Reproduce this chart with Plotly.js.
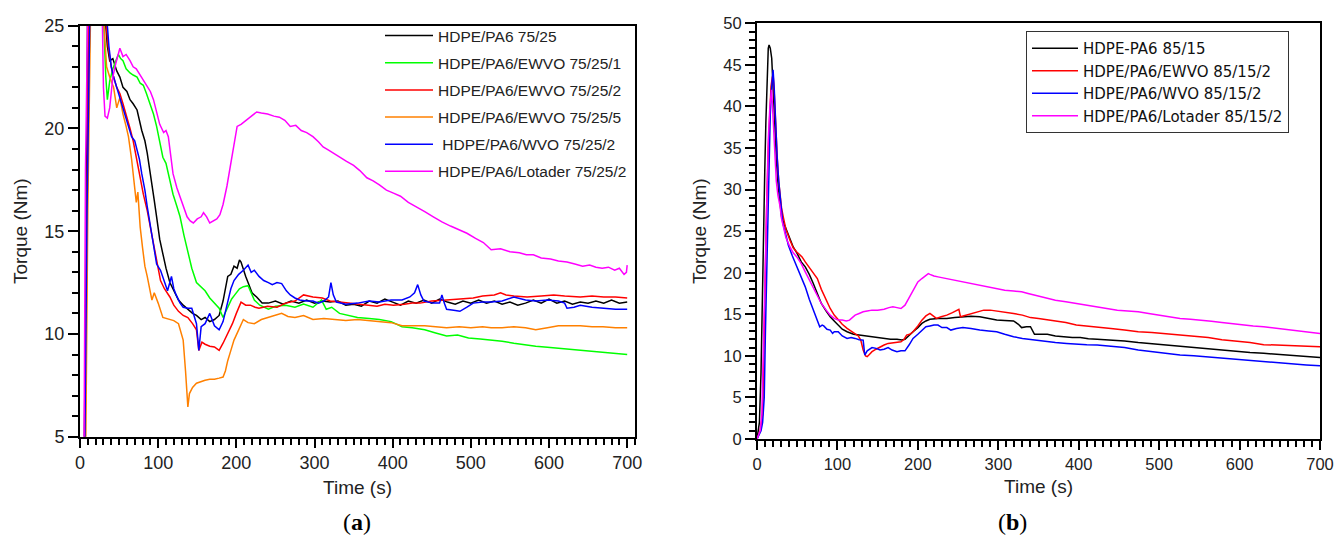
<!DOCTYPE html>
<html>
<head>
<meta charset="utf-8">
<script src="https://cdn.plot.ly/plotly-3.0.1.min.js"></script>
<style>html,body{margin:0;padding:0;background:#fff;}#chart{width:1334px;height:541px;}</style>
</head>
<body>
<div id="chart"></div>
<script>
// ---------- Panel (a): HDPE/PA6 75/25 blends, [time s, torque Nm] ----------
const namesA = ["HDPE/PA6 75/25", "HDPE/PA6/EWVO 75/25/1", "HDPE/PA6/EWVO 75/25/2",
                "HDPE/PA6/EWVO 75/25/5", " HDPE/PA6/WVO 75/25/2", "HDPE/PA6/Lotader 75/25/2"];

const a_blend = [[0,2],[5,3],[8,14],[10,28],[14,40],[20,42],[26,34],[32,25.5],[35,24.0],[38,23.3],[42,23.4],[47,22.8],[51,22.5],[55,22.0],[60,21.8],[64,21.4],[68,21.2],[73,20.9],[79,19.9],[83,19.4],[86,18.8],[89,18.1],[92,17.3],[95,16.5],[98,15.7],[102,14.6],[106,13.9],[110,13.2],[115,12.5],[120,12.1],[126,11.65],[132,11.4],[138,11.2],[144,11.0],[149,10.9],[155,10.7],[160,10.8],[166,10.6],[172,10.7],[178,10.9],[183,11.6],[186,12.2],[189,12.8],[193,12.9],[197,13.3],[201,13.2],[204,13.6],[206,13.5],[209,13.1],[212,12.8],[215,12.5],[220,12.0],[226,11.8],[233,11.5],[241,11.5],[250,11.6],[260,11.45],[270,11.6],[280,11.5],[290,11.65],[300,11.5],[310,11.6],[320,11.55],[330,11.6],[340,11.4],[350,11.45],[360,11.35],[370,11.6],[380,11.5],[390,11.7],[400,11.55],[410,11.4],[420,11.6],[430,11.5],[440,11.65],[450,11.5],[460,11.7],[470,11.55],[480,11.45],[490,11.6],[500,11.5],[510,11.65],[520,11.5],[530,11.6],[540,11.45],[550,11.55],[560,11.4],[570,11.5],[580,11.65],[590,11.5],[600,11.7],[610,11.5],[620,11.6],[630,11.45],[640,11.55],[650,11.5],[660,11.6],[670,11.5],[680,11.65],[690,11.5],[700,11.55]];

const a_ewvo1 = [[0,1],[6,3],[9,16],[12,30],[18,40],[25,33],[30,25.5],[33,22.5],[35,21.4],[38,22.3],[42,22.9],[46,23.3],[49,23.6],[52,23.4],[55,23.3],[59,22.9],[64,22.7],[68,22.6],[73,22.5],[77,22.2],[81,22.1],[85,21.7],[90,21.2],[94,20.7],[98,20.1],[102,19.3],[106,18.6],[110,18.3],[113,17.8],[119,16.8],[124,16.2],[128,15.7],[133,14.8],[137,14.2],[143,13.2],[149,12.5],[155,12.3],[160,12.1],[166,11.75],[172,11.5],[178,11.25],[183,10.8],[189,11.3],[194,11.7],[198,11.9],[204,12.2],[209,12.3],[215,12.35],[219,12.0],[223,11.65],[230,11.4],[241,11.2],[250,11.35],[263,11.4],[275,11.3],[286,11.45],[298,11.3],[309,11.65],[315,11.2],[322,11.3],[332,11.0],[345,10.9],[355,10.8],[370,10.75],[383,10.7],[398,10.6],[412,10.35],[425,10.3],[441,10.2],[455,10.05],[469,9.9],[483,9.95],[497,9.8],[512,9.75],[526,9.7],[540,9.65],[555,9.55],[570,9.45],[583,9.4],[598,9.35],[612,9.3],[626,9.25],[640,9.2],[655,9.15],[669,9.1],[685,9.05],[700,9.0]];

const a_ewvo2 = [[0,1],[6,3],[9,15],[12,30],[18,40],[26,33],[33,25.3],[36,24.0],[40,23.0],[43,22.5],[47,22.0],[51,21.7],[55,21.2],[60,20.6],[64,20.0],[68,19.4],[71,18.8],[74,18.3],[78,17.5],[81,16.8],[86,16.0],[90,15.2],[94,14.4],[98,13.6],[103,12.6],[108,12.2],[115,11.8],[120,11.4],[126,11.1],[132,10.9],[138,10.8],[144,10.5],[149,10.2],[152,9.2],[156,9.6],[160,9.5],[166,9.4],[172,9.37],[178,9.2],[183,9.55],[189,10.0],[195,10.5],[200,11.0],[206,11.55],[212,11.4],[218,11.4],[224,11.3],[229,11.25],[240,11.35],[252,11.3],[263,11.5],[275,11.6],[286,11.9],[298,11.8],[310,11.75],[320,11.6],[332,11.55],[345,11.5],[355,11.45],[366,11.4],[380,11.35],[390,11.45],[401,11.4],[415,11.45],[425,11.5],[435,11.5],[450,11.6],[469,11.65],[485,11.7],[503,11.75],[515,11.85],[530,11.9],[538,12.0],[545,11.9],[555,11.85],[572,11.8],[590,11.85],[606,11.9],[620,11.85],[640,11.8],[655,11.85],[670,11.8],[685,11.8],[700,11.75]];

const a_ewvo5 = [[0,1],[7,3],[10,16],[13,30],[18,38],[25,32],[30,25.5],[34,23.0],[38,22.5],[43,22.0],[47,21.0],[51,21.5],[55,20.7],[59,20.1],[62,19.6],[66,18.5],[70,17.0],[72,16.4],[74,16.9],[77,15.2],[80,14.2],[83,13.3],[86,12.8],[90,12.0],[92,11.65],[95,12.0],[98,11.7],[100,11.5],[106,10.8],[110,10.75],[115,10.7],[120,10.65],[126,10.5],[132,9.7],[135,8.2],[138,6.45],[140,7.1],[144,7.4],[149,7.6],[155,7.7],[160,7.75],[166,7.8],[172,7.8],[178,7.85],[183,7.9],[186,8.2],[189,8.7],[193,9.2],[197,9.7],[203,10.2],[209,10.7],[215,10.55],[223,10.5],[232,10.7],[241,10.8],[250,10.9],[258,11.0],[266,10.85],[275,10.8],[286,10.9],[298,10.7],[312,10.75],[326,10.7],[340,10.65],[355,10.7],[370,10.65],[383,10.6],[398,10.55],[412,10.4],[426,10.4],[441,10.4],[455,10.35],[469,10.3],[485,10.35],[500,10.3],[515,10.35],[526,10.3],[540,10.3],[555,10.35],[570,10.3],[583,10.2],[598,10.3],[612,10.4],[626,10.4],[640,10.4],[655,10.35],[669,10.35],[685,10.3],[700,10.3]];

const a_wvo2 = [[0,1],[6,4],[9,16],[12,30],[18,40],[26,33],[34,25.5],[37,24.0],[40,23.0],[43,22.5],[47,22.0],[51,21.5],[55,21.0],[60,20.3],[66,19.6],[70,19.4],[73,19.0],[76,18.5],[79,17.8],[83,17.0],[86,16.2],[90,15.2],[94,14.2],[98,13.4],[103,13.1],[108,12.5],[112,12.1],[117,12.8],[120,12.2],[123,11.9],[128,11.5],[132,11.3],[138,11.25],[143,11.25],[147,10.8],[149,10.5],[152,9.2],[155,10.35],[160,10.5],[166,11.0],[172,10.4],[178,10.2],[183,10.6],[189,11.65],[193,12.2],[197,12.6],[203,12.9],[209,13.1],[215,13.35],[219,13.0],[223,13.1],[229,12.8],[235,12.6],[241,12.5],[246,12.4],[252,12.5],[258,12.45],[264,12.1],[269,11.9],[275,11.75],[281,11.65],[290,11.6],[298,11.6],[305,11.5],[312,11.6],[318,11.8],[321,12.5],[324,11.9],[328,11.55],[340,11.45],[355,11.5],[370,11.6],[383,11.55],[398,11.65],[412,11.65],[422,11.8],[428,12.0],[432,12.4],[436,11.9],[440,11.6],[452,11.5],[460,11.5],[463,11.9],[466,11.5],[469,11.2],[478,11.15],[486,11.1],[495,11.3],[503,11.5],[515,11.55],[526,11.55],[540,11.6],[555,11.8],[570,11.65],[583,11.6],[598,11.65],[612,11.6],[620,11.5],[623,11.25],[632,11.3],[640,11.4],[655,11.3],[669,11.25],[685,11.2],[700,11.2]];

const a_lotader = [[0,1],[5,3],[7,18],[10,32],[16,42],[24,36],[28,25.5],[30,22.0],[32,20.6],[35,20.5],[38,21.0],[42,22.5],[46,23.2],[51,23.9],[55,23.5],[59,23.6],[64,23.3],[68,23.0],[72,22.9],[77,22.6],[81,22.3],[86,22.0],[90,21.8],[94,21.4],[98,20.8],[102,20.2],[107,19.8],[110,19.9],[113,19.6],[116,18.6],[119,17.8],[124,17.1],[128,16.7],[133,16.2],[137,15.7],[141,15.5],[145,15.4],[150,15.6],[155,15.7],[158,15.9],[162,15.7],[166,15.4],[170,15.5],[175,15.6],[179,15.8],[183,16.3],[188,17.2],[192,18.1],[196,19.0],[201,20.1],[206,20.2],[213,20.4],[220,20.6],[226,20.8],[232,20.75],[240,20.7],[248,20.6],[255,20.55],[262,20.4],[269,20.1],[276,20.15],[283,19.9],[290,19.8],[298,19.6],[305,19.35],[311,19.1],[318,18.95],[324,18.8],[332,18.6],[341,18.4],[350,18.2],[358,17.95],[367,17.6],[375,17.45],[383,17.25],[392,17.0],[401,16.85],[410,16.7],[420,16.4],[430,16.2],[441,15.95],[452,15.7],[463,15.45],[474,15.25],[485,15.05],[495,14.9],[506,14.65],[516,14.45],[526,14.1],[538,14.15],[550,14.0],[562,13.95],[571,13.85],[580,13.85],[590,13.7],[602,13.65],[612,13.55],[623,13.5],[633,13.4],[643,13.3],[652,13.35],[660,13.25],[668,13.2],[676,13.25],[684,13.1],[690,13.2],[696,12.9],[699,13.0],[700,13.35]];

// ---------- Panel (b): HDPE/PA6 85/15 blends ----------
const namesB = ["HDPE-PA6 85/15", "HDPE/PA6/EWVO 85/15/2", "HDPE/PA6/WVO 85/15/2", "HDPE/PA6/Lotader 85/15/2"];

const b_blend = [[0,0],[3,2],[5,8],[7.5,24],[9.6,32],[11,38],[12.6,44.8],[14,47],[15,47.4],[16.5,47.0],[18.3,45.8],[20,42],[22.4,36.8],[24.5,33],[26.5,30.3],[28.5,28.2],[30.6,26.7],[34,25.8],[37,25.1],[41,24.2],[45,23.1],[50,22.3],[55,21.3],[60,20.7],[65,19.8],[70,18.7],[75,17.4],[80,16.3],[86,15.4],[91,14.7],[96,14.2],[101,13.7],[106,13.2],[112,12.9],[120,12.6],[127,12.5],[135,12.4],[143,12.3],[150,12.2],[158,12.1],[166,12.0],[174,12.0],[180,11.9],[184,12.0],[189,12.4],[194,12.9],[200,13.4],[205,13.9],[210,14.2],[215,14.4],[225,14.5],[236,14.5],[246,14.6],[256,14.7],[266,14.75],[277,14.7],[288,14.5],[298,14.3],[308,14.25],[319,14.2],[325,13.8],[329,13.4],[335,13.5],[340,13.5],[345,12.6],[352,12.6],[361,12.6],[371,12.4],[381,12.3],[392,12.2],[402,12.2],[412,12.05],[423,12.0],[440,11.9],[457,11.8],[474,11.6],[491,11.45],[509,11.3],[526,11.1],[543,10.95],[561,10.8],[578,10.7],[595,10.55],[613,10.4],[630,10.3],[648,10.15],[665,10.0],[683,9.9],[700,9.8]];

const b_ewvo2 = [[0,0],[4,1],[7,3],[9.6,18],[12,28],[14,34.8],[16,39.5],[17.4,42.4],[19,43.5],[20,43.8],[21,42.5],[22.4,39.2],[24,35.5],[25.3,33.6],[27,31],[28.6,29.6],[30.5,27.8],[32.7,26.7],[36,25.2],[41,23.9],[45,23.0],[49.5,22.5],[53,22.2],[56,21.9],[60,21.3],[65,20.6],[70,20.0],[75,19.3],[80,18.0],[86,16.7],[91,15.7],[96,14.9],[101,14.3],[106,13.8],[112,13.3],[117,13.0],[122,12.7],[126,12.4],[129,11.9],[132,10.7],[135,10.0],[137,9.9],[140,10.2],[143,10.5],[148,10.8],[153,11.1],[158,11.3],[163,11.5],[170,11.6],[179,11.7],[183,12.0],[186,12.5],[190,12.6],[194,12.9],[200,13.6],[205,14.3],[210,14.8],[215,15.1],[219,14.8],[223,14.5],[229,14.7],[236,14.9],[243,15.2],[249,15.5],[251,15.6],[253,14.7],[260,14.9],[267,15.1],[274,15.3],[282,15.5],[290,15.5],[298,15.4],[308,15.3],[319,15.1],[330,14.9],[340,14.6],[350,14.5],[360,14.35],[371,14.2],[384,14.0],[397,13.7],[410,13.6],[423,13.5],[440,13.3],[457,13.1],[474,12.9],[491,12.8],[509,12.65],[526,12.5],[543,12.35],[561,12.2],[578,11.95],[595,11.8],[613,11.6],[630,11.35],[648,11.3],[665,11.2],[683,11.15],[700,11.1]];

const b_wvo2 = [[0,0],[3,0.6],[5,1],[7,2],[9,5],[10.5,13],[12,20],[13.5,28],[15,35],[16.5,39],[18,42],[20,44.4],[21.5,42],[23,38],[25,34],[27,31],[29.5,28],[32,26],[36,24.5],[39,23.3],[44,22.0],[49.5,20.7],[55,19.4],[60,18.3],[65,16.8],[70,15.5],[74,14.3],[78,13.5],[81,13.7],[83,13.6],[87,13.2],[91,13.1],[94,12.7],[96,12.9],[101,12.9],[106,12.4],[112,12.1],[117,12.2],[122,12.1],[127,11.95],[132,11.9],[134,10.1],[137,10.6],[143,11.0],[148,10.9],[153,10.7],[158,10.8],[163,11.0],[168,10.7],[174,10.5],[179,10.6],[184,10.6],[189,11.3],[194,12.1],[200,12.6],[205,13.1],[210,13.5],[215,13.6],[220,13.7],[225,13.7],[230,13.4],[236,13.4],[241,13.1],[248,13.3],[256,13.4],[266,13.3],[277,13.1],[288,13.0],[298,12.9],[308,12.6],[319,12.3],[330,12.1],[345,11.9],[358,11.75],[371,11.6],[385,11.5],[397,11.4],[410,11.35],[423,11.3],[440,11.15],[457,11.0],[474,10.7],[491,10.5],[509,10.35],[526,10.1],[543,10.0],[561,9.85],[578,9.7],[595,9.6],[613,9.45],[630,9.3],[648,9.15],[665,9.0],[683,8.9],[700,8.8]];

const b_lotader = [[0,0],[4,1],[6,3],[8,12],[10,22],[12,30],[14,36],[16,40],[17,41.5],[18,42],[19,40.5],[20.5,38],[22,34],[24,31],[26,29.3],[28.6,28.0],[30.5,26.5],[32.7,25.5],[36,24.2],[41,23.1],[45,22.4],[49.5,21.9],[55,21.1],[60,20.1],[65,19.1],[70,18.1],[75,17.1],[80,16.3],[86,15.5],[91,14.9],[96,14.5],[101,14.3],[106,14.3],[111,14.2],[115,14.3],[118,14.6],[122,14.9],[127,15.1],[132,15.3],[137,15.4],[143,15.5],[150,15.5],[158,15.6],[164,15.8],[169,15.9],[174,15.8],[179,15.7],[184,16.1],[188,16.8],[192,17.5],[196,18.2],[200,18.9],[205,19.3],[210,19.7],[213,19.9],[215,19.8],[220,19.6],[225,19.5],[235,19.3],[246,19.1],[256,18.9],[267,18.7],[277,18.5],[288,18.3],[298,18.1],[308,17.9],[319,17.8],[329,17.7],[337,17.5],[345,17.3],[358,17.0],[371,16.7],[384,16.5],[397,16.3],[410,16.1],[423,15.9],[435,15.7],[448,15.5],[461,15.4],[474,15.3],[487,15.1],[500,14.9],[513,14.7],[526,14.5],[539,14.4],[552,14.3],[565,14.15],[578,14.0],[591,13.85],[604,13.7],[617,13.6],[630,13.5],[643,13.35],[655,13.2],[668,13.1],[680,12.95],[690,12.85],[700,12.7]];

const colorsA = ["#000000", "#00ff00", "#ff0000", "#ff8000", "#0000ff", "#ff00ff"];
const colorsB = ["#000000", "#ff0000", "#0000ff", "#ff00ff"];

const seriesA = [a_blend, a_ewvo1, a_ewvo2, a_ewvo5, a_wvo2, a_lotader];
const seriesB = [b_blend, b_ewvo2, b_wvo2, b_lotader];

const traces = [];
seriesA.forEach((s, i) => traces.push({
  x: s.map(p => p[0]), y: s.map(p => p[1]), type: 'scatter', mode: 'lines',
  name: namesA[i], line: {color: colorsA[i], width: 1.5},
  xaxis: 'x', yaxis: 'y', legend: 'legend', legendgroup: 'a' + i
}));
seriesB.forEach((s, i) => traces.push({
  x: s.map(p => p[0]), y: s.map(p => p[1]), type: 'scatter', mode: 'lines',
  name: namesB[i], line: {color: colorsB[i], width: 1.5},
  xaxis: 'x2', yaxis: 'y2', legend: 'legend2'
}));

const FONT = 'Liberation Sans, Arial, sans-serif';
const MINOR_COLOR = '#000000';
function xax(domain, range, anchor, fs) {
  return {
    domain: domain, range: range, anchor: anchor,
    showline: true, linecolor: '#000', linewidth: 2, mirror: true,
    ticks: 'outside', ticklen: 9, tickwidth: 2, tickcolor: '#000',
    dtick: 100, tick0: 0,
    minor: {ticks: 'outside', dtick: 10, ticklen: 6, tickwidth: 2, tickcolor: MINOR_COLOR, showgrid: false},
    showgrid: false, zeroline: false,
    tickfont: {family: FONT, size: fs, color: '#222'},
    title: {text: 'Time (s)', font: {family: FONT, size: 19, color: '#222'}, standoff: 8}
  };
}
function yax(domain, range, anchor, fs) {
  return {
    domain: domain, range: range, anchor: anchor,
    showline: true, linecolor: '#000', linewidth: 2, mirror: true,
    ticks: 'outside', ticklen: 10, tickwidth: 2, tickcolor: '#000',
    dtick: 5, tick0: 0,
    minor: {ticks: 'outside', dtick: 1, ticklen: 6, tickwidth: 2, tickcolor: MINOR_COLOR, showgrid: false},
    showgrid: false, zeroline: false,
    tickfont: {family: FONT, size: fs, color: '#222'},
    title: {text: 'Torque (Nm)', font: {family: FONT, size: 19, color: '#222'}, standoff: 12}
  };
}

const layout = {
  width: 1334, height: 541,
  margin: {l: 0, r: 0, t: 0, b: 0},
  paper_bgcolor: '#fff', plot_bgcolor: '#fff',
  showlegend: true,
  xaxis: xax([80/1334, 635/1334], [0, 710], 'y', 18),
  yaxis: yax([(541-436.7)/541, (541-25.7)/541], [5, 25], 'x', 18),
  xaxis2: xax([757/1334, 1320/1334], [0, 700], 'y2', 16.5),
  yaxis2: yax([(541-439)/541, (541-23.3)/541], [0, 50], 'x2', 16.5),
  legend: {
    x: 380/1334, y: (541-19)/541, xanchor: 'left', yanchor: 'top',
    bgcolor: 'rgba(0,0,0,0)', borderwidth: 0,
    font: {family: FONT, size: 15.5, color: '#222'},
    traceorder: 'grouped', tracegroupgap: 4, itemwidth: 48
  },
  legend2: {
    x: 1026/1334, y: (541-31)/541, xanchor: 'left', yanchor: 'top',
    bgcolor: '#fff', bordercolor: '#333', borderwidth: 1,
    font: {family: 'DejaVu Sans, sans-serif', size: 15, color: '#111'},
    itemwidth: 46
  },
  annotations: [
    {text: '(<b>a</b>)', x: 357/1334, y: (541-522)/541, xref: 'paper', yref: 'paper',
     xanchor: 'center', yanchor: 'middle',
     showarrow: false, font: {family: 'Liberation Serif, DejaVu Serif, serif', size: 24, color: '#000'}},
    {text: '(<b>b</b>)', x: 1013/1334, y: (541-522)/541, xref: 'paper', yref: 'paper',
     xanchor: 'center', yanchor: 'middle',
     showarrow: false, font: {family: 'Liberation Serif, DejaVu Serif, serif', size: 24, color: '#000'}}
  ]
};

Plotly.newPlot('chart', traces, layout, {staticPlot: true, displayModeBar: false});
</script>
</body>
</html>
